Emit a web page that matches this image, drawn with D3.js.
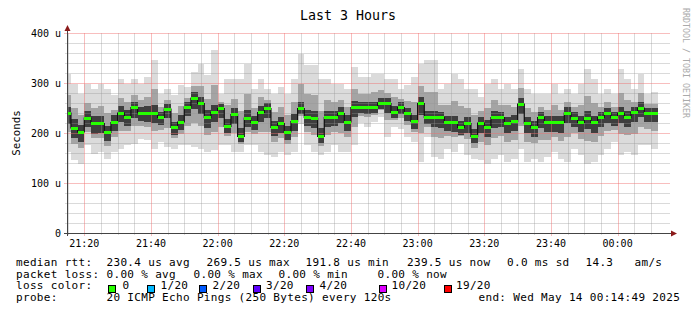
<!DOCTYPE html>
<html><head><meta charset="utf-8">
<script src="https://cdn.jsdelivr.net/npm/d3@7"></script>
<style>html,body{margin:0;padding:0;background:#fff;}svg{display:block;}</style>
</head><body><svg id="c" width="697" height="321"></svg>
<script>
// ---- data (microseconds), one value per 120 s bucket, first bucket ends 21:16 ----
const median = [240,210,202,230,220,219,201,221,240,232,
 251,240,240,240,231,248,211,222,252,270,
 259,231,241,249,213,237,193,230,221,241,
 249,211,219,202,223,249,231,229,193,231,
 231,239,222,251,251,251,251,260,259,241,
 251,239,223,259,231,231,231,221,221,211,
 219,193,220,212,231,231,220,223,258,220,
 211,231,221,221,221,240,230,221,230,221,
 231,239,231,239,231,241,250,240,240];
const smokeHi = [319,299,279,299,289,299,289,276,309,299,
 309,299,313,346,279,289,276,296,293,323,
 339,316,366,279,309,309,309,339,289,309,
 289,279,293,279,309,359,336,336,309,309,
 299,299,289,333,313,313,319,319,309,309,
 289,296,313,339,346,346,289,299,319,309,
 289,289,273,299,309,289,299,289,329,289,
 279,279,279,299,279,289,279,299,329,309,
 279,289,279,329,309,289,319,279,283];
const smokeLo = [163,146,139,176,159,163,149,163,169,176,
 179,189,186,169,183,173,169,176,176,173,
 169,163,166,176,176,163,163,176,176,163,
 156,153,163,156,163,219,176,163,156,163,
 176,163,163,176,220,213,223,233,193,213,
 209,193,183,143,193,153,149,169,163,179,
 156,149,146,139,149,156,143,149,169,143,
 149,143,153,163,149,143,169,156,139,143,
 156,169,183,156,163,156,176,176,169];
const midHi = [276,250,237,261,251,255,241,246,271,262,
 277,266,273,288,253,266,240,255,270,294,
 295,269,297,262,256,269,245,279,251,272,
 267,242,252,237,262,298,278,277,245,266,
 262,266,252,288,279,279,282,287,281,272,
 268,265,263,295,283,283,257,256,265,255,
 251,236,244,251,266,257,256,253,290,251,
 242,253,247,256,247,262,252,256,275,261,
 253,262,253,280,266,263,281,258,259];
const midLo = [202,178,170,203,190,191,175,192,205,204,
 215,214,213,205,207,210,190,199,214,221,
 214,197,203,212,194,200,178,203,198,202,
 202,182,191,179,193,234,203,196,174,197,
 203,201,192,213,235,232,237,246,226,227,
 230,216,203,201,212,192,190,195,192,195,
 188,171,183,176,190,194,182,186,214,182,
 180,187,187,192,185,192,200,189,185,182,
 194,204,207,198,197,199,213,208,205];
const darkHi = [252,228,216,244,234,234,214,236,254,246,
 262,252,254,256,242,258,222,236,262,282,
 272,246,256,258,228,250,210,246,234,254,
 260,224,232,214,238,262,246,244,210,244,
 244,252,236,264,262,262,262,270,270,254,
 262,250,236,272,244,244,242,234,234,224,
 232,208,232,226,244,242,232,236,270,232,
 224,242,234,234,234,252,242,234,244,234,
 242,250,242,252,244,252,262,250,250];
const darkLo = [218,190,182,212,198,200,184,204,222,214,
 230,224,222,220,216,230,196,206,234,248,
 238,210,222,230,200,218,182,212,206,222,
 230,194,200,186,204,238,214,210,180,212,
 214,220,204,232,240,238,240,248,240,230,
 238,224,208,236,218,212,210,204,202,196,
 200,180,200,192,210,212,200,204,238,200,
 192,210,202,202,200,220,212,202,208,200,
 212,220,214,220,212,222,232,222,222];

const yTickValues = [0,100,200,300,400];
const yTickLabels = ["0","100 u","200 u","300 u","400 u"];
const xTickLabels = ["21:20","21:40","22:00","22:20","22:40","23:00","23:20","23:40","00:00"];

const lossLabels = ["0","1/20","2/20","3/20","4/20","10/20","19/20"];
const lossColors = ["#26ff00","#00b8ff","#0059ff","#5e00ff","#7e00ff","#dd00ff","#ff0000"];
const rttLabels = ["230.4 us avg","269.5 us max","191.8 us min","239.5 us now","0.0 ms sd","14.3","am/s"];
const lossStats = ["0.00 % avg","0.00 % max","0.00 % min","0.00 % now"];
const probeText = "20 ICMP Echo Pings (250 Bytes) every 120s";
const endText = "end: Wed May 14 00:14:49 2025";
const titleText = "Last 3 Hours";

// ---- layout ----
const svg = d3.select("#c");
const X0 = 67, X1 = 667, Y0 = 233, Y1 = 33;
const tStart = new Date(2025,4,13,21,14,49), tEnd = new Date(2025,4,14,0,14,49);
const firstEnd = new Date(2025,4,13,21,16,0), stepMs = 120000;
const x = d3.scaleTime().domain([tStart,tEnd]).range([X0,X1]);
const y = d3.scaleLinear().domain([0,400]).range([Y0,Y1]);
const mono = "DejaVu Sans Mono";

svg.append("rect").attr("width",697).attr("height",321).attr("fill","#ffffff");

const buckets = median.map((m,i)=>{
  const e = new Date(firstEnd.getTime()+i*stepMs);
  const s = new Date(Math.max(tStart.getTime(), e.getTime()-stepMs));
  return {i, s, e, m};
});

// smoke bands
const bands = [
  {hi:smokeHi, lo:smokeLo, c:"#dbdbdb"},
  {hi:midHi, lo:midLo, c:"#a4a4a4"},
  {hi:darkHi, lo:darkLo, c:"#3e3e3e"}
];
const gs = svg.append("g").attr("shape-rendering","crispEdges");
bands.forEach(b=>{
  gs.selectAll(null).data(buckets).enter().append("rect")
    .attr("x",d=>x(d.s)).attr("width",d=>x(d.e)-x(d.s))
    .attr("y",d=>y(b.hi[d.i])).attr("height",d=>y(b.lo[d.i])-y(b.hi[d.i]))
    .attr("fill",b.c);
});

// grid (drawn over data, semi transparent)
const gg = svg.append("g").attr("shape-rendering","crispEdges");
const minorY = d3.range(20,401,20).filter(v=>v%100!==0);
gg.selectAll(null).data(minorY).enter().append("line")
  .attr("x1",X0-2).attr("x2",X1+3).attr("y1",d=>Math.round(y(d))+0.5).attr("y2",d=>Math.round(y(d))+0.5)
  .attr("stroke","rgba(150,150,150,0.35)");
const minorX = d3.timeMinute.every(5).range(tStart,tEnd).filter(t=>t.getMinutes()%20!==0);
gg.selectAll(null).data(minorX).enter().append("line")
  .attr("x1",d=>Math.round(x(d))+0.5).attr("x2",d=>Math.round(x(d))+0.5).attr("y1",Y1).attr("y2",Y0+2)
  .attr("stroke","rgba(150,150,150,0.35)");
const majorX = xTickLabels.map(s=>{const [h,mi]=s.split(":").map(Number);return h<12?new Date(2025,4,14,h,mi):new Date(2025,4,13,h,mi);});
gg.selectAll(null).data(majorX).enter().append("line")
  .attr("x1",d=>Math.round(x(d))+0.5).attr("x2",d=>Math.round(x(d))+0.5).attr("y1",Y1).attr("y2",Y0+3)
  .attr("stroke","rgba(240,110,110,0.45)");
gg.selectAll(null).data(yTickValues.filter(v=>v>0)).enter().append("line")
  .attr("x1",X0-3).attr("x2",X1+3).attr("y1",d=>Math.round(y(d))+0.5).attr("y2",d=>Math.round(y(d))+0.5)
  .attr("stroke","rgba(240,110,110,0.45)");

// median: black step line + green loss-colour bars
const stepPts = buckets.map(d=>[x(d.s), y(d.m)]);
stepPts.push([x(buckets[buckets.length-1].e), y(median[median.length-1])]);
svg.append("path").attr("d", d3.line().curve(d3.curveStepAfter)(stepPts))
  .attr("fill","none").attr("stroke","#111").attr("stroke-width",1.2);
svg.append("g").attr("shape-rendering","crispEdges").selectAll(null).data(buckets).enter().append("rect")
  .attr("x",d=>x(d.s)).attr("width",d=>x(d.e)-x(d.s))
  .attr("y",d=>y(d.m)-1.5).attr("height",3).attr("fill",lossColors[0]);

// axes
svg.append("line").attr("x1",X0+0.5).attr("x2",X0+0.5).attr("y1",Y0+3).attr("y2",Y1-4).attr("stroke","#444").attr("shape-rendering","crispEdges");
svg.append("line").attr("x1",X0-3).attr("x2",X1+4).attr("y1",Y0+0.5).attr("y2",Y0+0.5).attr("stroke","#444").attr("shape-rendering","crispEdges");
svg.append("path").attr("d",`M${X0-2.5},${Y1-2}L${X0+3.5},${Y1-2}L${X0+0.5},${Y1-8}Z`).attr("fill","#8b1a1a");
svg.append("path").attr("d",`M${X1+4},${Y0-2.5}L${X1+4},${Y0+3.5}L${X1+10},${Y0+0.5}Z`).attr("fill","#8b1a1a");

// y tick labels
svg.selectAll(null).data(yTickValues).enter().append("text")
  .attr("x",61).attr("y",d=>y(d)+3.5).attr("text-anchor","end")
  .attr("font-family",mono).attr("font-size","10px").attr("fill","#000")
  .text((d,i)=>yTickLabels[i]);
// x tick labels
svg.selectAll(null).data(majorX).enter().append("text")
  .attr("x",d=>x(d)).attr("y",247).attr("text-anchor","middle")
  .attr("font-family",mono).attr("font-size","10px").attr("fill","#000")
  .text((d,i)=>xTickLabels[i]);

// title, axis label, watermark
svg.append("text").attr("x",348).attr("y",20).attr("text-anchor","middle")
  .attr("font-family",mono).attr("font-size","13.3px").attr("fill","#000").text(titleText);
svg.append("text").attr("transform","translate(20,133) rotate(-90)").attr("text-anchor","middle")
  .attr("font-family",mono).attr("font-size","10.8px").attr("fill","#000").text("Seconds");
svg.append("text").attr("transform","translate(683,8) rotate(90)").attr("text-anchor","start")
  .attr("font-family",mono).attr("font-size","8.3px").attr("fill","#aaaaaa").text("RRDTOOL / TOBI OETIKER");

// legend
const lf = "11px";
function t(xp, yp, s){ svg.append("text").attr("x",xp).attr("y",yp).attr("font-family",mono).attr("font-size",lf)
  .attr("letter-spacing","0.33px").attr("fill","#000").attr("xml:space","preserve").text(s); }
const L1=266, L2=277.5, L3=289, L4=300.5;
t(16,L1,"median rtt:");
const rttX=[106.5,206.5,305.5,407,507,585.5,634.5];
rttLabels.forEach((s,i)=>t(rttX[i],L1,s));
t(16,L2,"packet loss:");
const lossX=[106.5,193.5,278.5,377.5];
lossStats.forEach((s,i)=>t(lossX[i],L2,s));
t(16,L3,"loss color:");
const boxX=[108,146.5,199,253,306,379,444];
const lblX=[122.5,160.5,212.5,266,319.5,391.5,456];
lossLabels.forEach((s,i)=>{
  svg.append("rect").attr("x",boxX[i]+0.5).attr("y",285.5).attr("width",7).attr("height",7)
    .attr("fill",lossColors[i]).attr("stroke","#000").attr("stroke-width",1).attr("shape-rendering","crispEdges");
  t(lblX[i],L3,s);
});
t(16,L4,"probe:");
t(106.5,L4,probeText);
t(478.5,L4,endText);
</script></body></html>
